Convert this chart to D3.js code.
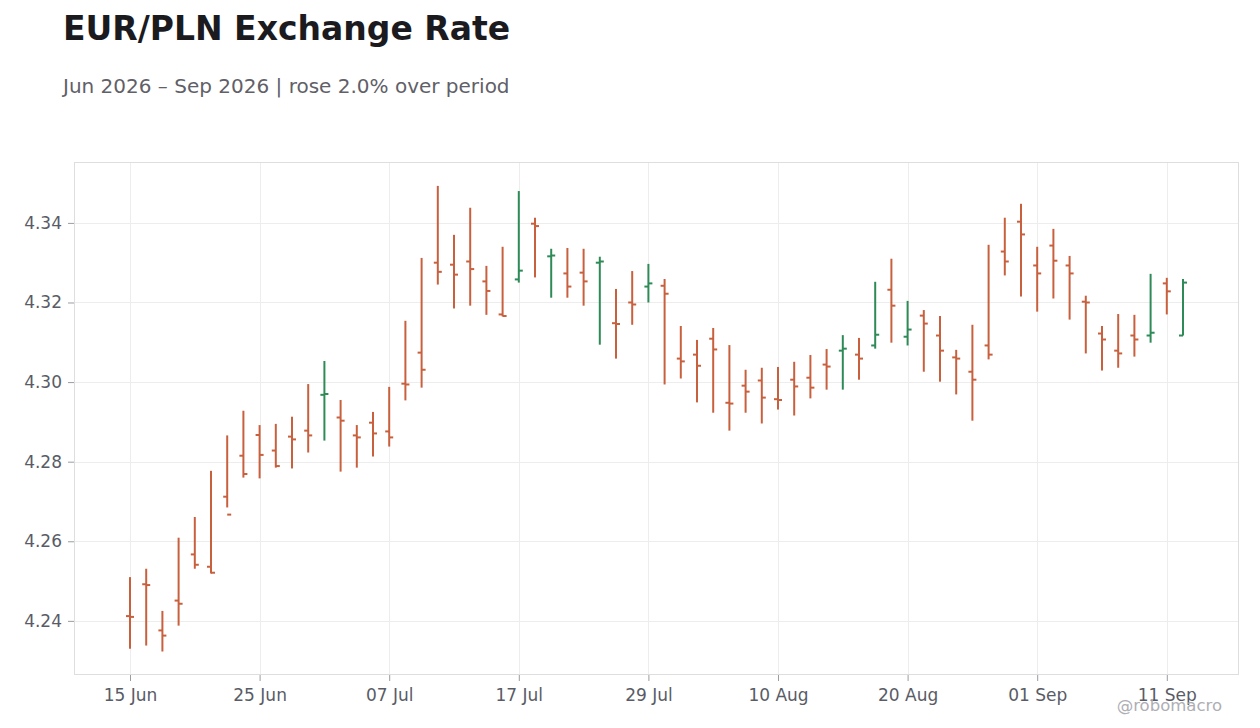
<!DOCTYPE html>
<html>
<head>
<meta charset="utf-8">
<script src="https://cdn.jsdelivr.net/npm/d3@7"></script>
<style>
  body { margin: 0; background: #fff; font-family: "DejaVu Sans", sans-serif; }
  svg { display: block; }
</style>
</head>
<body>
<div id="chart"></div>
<script>
// trading days, Jun 15 - Sep 14 2026
var dates = [
  "2026-06-15","2026-06-16","2026-06-17","2026-06-18","2026-06-19",
  "2026-06-22","2026-06-23","2026-06-24","2026-06-25","2026-06-26",
  "2026-06-29","2026-06-30","2026-07-01","2026-07-02","2026-07-03",
  "2026-07-06","2026-07-07","2026-07-08","2026-07-09","2026-07-10",
  "2026-07-13","2026-07-14","2026-07-15","2026-07-16","2026-07-17",
  "2026-07-20","2026-07-21","2026-07-22","2026-07-23","2026-07-24",
  "2026-07-27","2026-07-28","2026-07-29","2026-07-30","2026-07-31",
  "2026-08-03","2026-08-04","2026-08-05","2026-08-06","2026-08-07",
  "2026-08-10","2026-08-11","2026-08-12","2026-08-13","2026-08-14",
  "2026-08-17","2026-08-18","2026-08-19","2026-08-20","2026-08-21",
  "2026-08-24","2026-08-25","2026-08-26","2026-08-27","2026-08-28",
  "2026-08-31","2026-09-01","2026-09-02","2026-09-03","2026-09-04",
  "2026-09-07","2026-09-08","2026-09-09","2026-09-10","2026-09-11",
  "2026-09-14"
];
var open = [
  4.2412,4.2492,4.2376,4.2451,4.2567,4.2536,4.2712,4.2815,4.2867,4.2828,
  4.2863,4.2878,4.2968,4.2911,4.2866,4.2898,4.2876,4.2996,4.3074,4.3300,
  4.3295,4.3303,4.3253,4.3170,4.3258,4.3398,4.3316,4.3273,4.3275,4.3300,
  4.3148,4.3200,4.3240,4.3242,4.3059,4.3069,4.3109,4.2948,4.2991,4.3004,
  4.2957,4.3006,4.3011,4.3044,4.3079,4.3069,4.3092,4.3232,4.3114,4.3167,
  4.3117,4.3062,4.3026,4.3092,4.3328,4.3403,4.3293,4.3343,4.3293,4.3202,
  4.3122,4.3079,4.3117,4.3117,4.3248,4.3117
];
var high = [
  4.2510,4.2531,4.2425,4.2609,4.2661,4.2777,4.2866,4.2928,4.2892,4.2895,
  4.2913,4.2995,4.3053,4.2955,4.2892,4.2925,4.2988,4.3154,4.3312,4.3493,
  4.3370,4.3438,4.3292,4.3340,4.3480,4.3413,4.3335,4.3337,4.3335,4.3315,
  4.3234,4.3279,4.3297,4.3259,4.3141,4.3106,4.3136,4.3093,4.3031,4.3036,
  4.3038,4.3051,4.3068,4.3083,4.3118,4.3111,4.3252,4.3310,4.3204,4.3181,
  4.3166,4.3081,4.3144,4.3345,4.3413,4.3448,4.3340,4.3385,4.3317,4.3217,
  4.3141,4.3171,4.3169,4.3272,4.3262,4.3259
];
var low = [
  4.2330,4.2338,4.2323,4.2388,4.2531,4.2519,4.2685,4.2760,4.2758,4.2785,
  4.2783,4.2823,4.2853,4.2775,4.2785,4.2813,4.2838,4.2954,4.2986,4.3245,
  4.3185,4.3192,4.3169,4.3165,4.3250,4.3263,4.3212,4.3212,4.3192,4.3094,
  4.3059,4.3144,4.3200,4.2994,4.3009,4.2949,4.2923,4.2878,4.2923,4.2896,
  4.2931,4.2916,4.2959,4.2981,4.2981,4.3006,4.3084,4.3099,4.3092,4.3026,
  4.3001,4.2969,4.2903,4.3057,4.3268,4.3215,4.3177,4.3210,4.3157,4.3072,
  4.3029,4.3036,4.3064,4.3099,4.3170,4.3117
];
var close = [
  4.2410,4.2490,4.2363,4.2443,4.2541,4.2521,4.2667,4.2769,4.2817,4.2789,
  4.2856,4.2866,4.2970,4.2903,4.2861,4.2871,4.2861,4.2994,4.3031,4.3277,
  4.3270,4.3284,4.3229,4.3166,4.3280,4.3392,4.3318,4.3240,4.3253,4.3303,
  4.3146,4.3195,4.3248,4.3222,4.3052,4.3041,4.3082,4.2946,4.2976,4.2961,
  4.2955,4.2989,4.2986,4.3039,4.3084,4.3059,4.3119,4.3192,4.3132,4.3147,
  4.3079,4.3059,4.3006,4.3069,4.3303,4.3371,4.3273,4.3305,4.3273,4.3200,
  4.3107,4.3072,4.3107,4.3124,4.3228,4.3250
];
var yTicks = [4.24, 4.26, 4.28, 4.30, 4.32, 4.34];
var xTickDates = ["2026-06-15","2026-06-25","2026-07-07","2026-07-17","2026-07-29",
                  "2026-08-10","2026-08-20","2026-09-01","2026-09-11"];

var W = 1260, H = 728;
var margin = {top: 162, right: 21, bottom: 53, left: 74},
    width = W - margin.left - margin.right,
    height = H - margin.top - margin.bottom;

var upColor = "#2e8b57", downColor = "#c8603e";
var parse = d3.timeParse("%Y-%m-%d"), fmt = d3.timeFormat("%d %b");

var data = dates.map(function(d, i) {
  return {date: d, open: open[i], high: high[i], low: low[i], close: close[i]};
});

var svg = d3.select("#chart").append("svg")
  .attr("width", W).attr("height", H);

svg.append("text").attr("x", 63).attr("y", 40)
  .style("font-size", "33px").style("font-weight", "bold").style("fill", "#1b1b1f")
  .text("EUR/PLN Exchange Rate");
svg.append("text").attr("x", 63).attr("y", 93)
  .style("font-size", "20px").style("fill", "#5f6068")
  .text("Jun 2026 \u2013 Sep 2026 | rose 2.0% over period");

var g = svg.append("g").attr("transform", "translate(" + margin.left + "," + margin.top + ")");

var x = d3.scalePoint().domain(dates).range([0, width]).padding(3.457);
var y = d3.scaleLinear().domain([4.2264, 4.3553]).range([height, 0]);

// grid
g.append("g").selectAll("line").data(yTicks).enter().append("line")
  .attr("x1", 0).attr("x2", width)
  .attr("y1", function(d) { return Math.round(y(d)) + 0.5; })
  .attr("y2", function(d) { return Math.round(y(d)) + 0.5; })
  .attr("stroke", "#ededed");
g.append("g").selectAll("line").data(xTickDates).enter().append("line")
  .attr("y1", 0).attr("y2", height)
  .attr("x1", function(d) { return Math.round(x(d)) + 0.5; })
  .attr("x2", function(d) { return Math.round(x(d)) + 0.5; })
  .attr("stroke", "#ededed");

g.append("rect").attr("x", 0.5).attr("y", 0.5).attr("width", width - 1).attr("height", height - 1)
  .attr("fill", "none").attr("stroke", "#dedede");

// axes
var xAxis = d3.axisBottom(x).tickValues(xTickDates).tickSize(6).tickPadding(8)
  .tickFormat(function(d) { return fmt(parse(d)); });
var yAxis = d3.axisLeft(y).tickValues(yTicks).tickSize(6).tickPadding(6)
  .tickFormat(d3.format(".2f"));

var gx = g.append("g").attr("transform", "translate(0," + height + ")").call(xAxis);
var gy = g.append("g").call(yAxis);
[gx, gy].forEach(function(a) {
  a.select(".domain").remove();
  a.selectAll(".tick line").attr("stroke", "#9a9ca3");
  a.selectAll(".tick text").style("font-family", "DejaVu Sans").style("font-size", "17px")
    .attr("fill", "#595c66");
});

// OHLC bars
var bar = g.append("g").selectAll("g").data(data).enter().append("g")
  .attr("stroke", function(d) { return d.close >= d.open ? upColor : downColor; })
  .attr("stroke-width", 2);
bar.append("line")
  .attr("x1", function(d) { return x(d.date); }).attr("x2", function(d) { return x(d.date); })
  .attr("y1", function(d) { return y(d.high); }).attr("y2", function(d) { return y(d.low); });
bar.append("line")
  .attr("x1", function(d) { return x(d.date) - 4; }).attr("x2", function(d) { return x(d.date); })
  .attr("y1", function(d) { return y(d.open); }).attr("y2", function(d) { return y(d.open); });
bar.append("line")
  .attr("x1", function(d) { return x(d.date); }).attr("x2", function(d) { return x(d.date) + 4; })
  .attr("y1", function(d) { return y(d.close); }).attr("y2", function(d) { return y(d.close); });

svg.append("text").attr("x", 1222).attr("y", 711).attr("text-anchor", "end")
  .style("font-size", "16.5px").style("fill", "#aeaeb4")
  .text("@robomacro");
</script>
</body>
</html>
